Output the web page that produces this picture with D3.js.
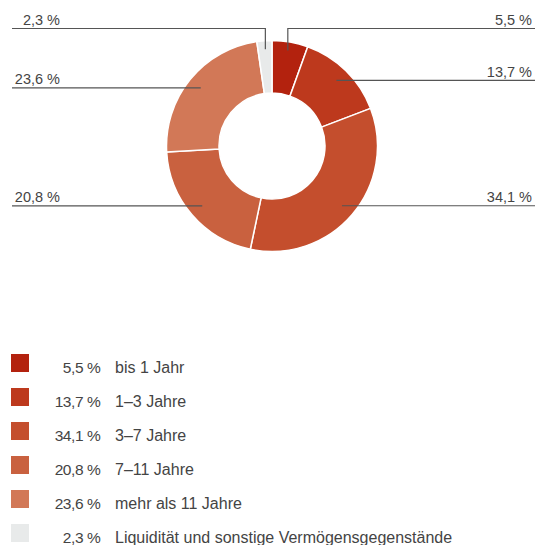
<!DOCTYPE html>
<html>
<head>
<meta charset="utf-8">
<script src="https://cdn.jsdelivr.net/npm/d3@7"></script>
<style>
body { margin: 0; background: #fff; }
text { font-family: "Liberation Sans", Arial, sans-serif; fill: #444; }
</style>
</head>
<body>
<div id="container"></div>
<script>
var WIDTH = 535,
	HEIGHT = 545,
	CX = 272,
	CY = 146,
	OUTER = 105.5,
	INNER = 53;

var categories = ['bis 1 Jahr', '1\u20133 Jahre', '3\u20137 Jahre', '7\u201311 Jahre', 'mehr als 11 Jahre', 'Liquidit\u00e4t und sonstige Verm\u00f6gensgegenst\u00e4nde'];
var values = [5.5, 13.7, 34.1, 20.8, 23.6, 2.3];
var valueLabels = ['5,5 %', '13,7 %', '34,1 %', '20,8 %', '23,6 %', '2,3 %'];
var colors = ['#b3220e', '#bd391d', '#c44e2d', '#c9613f', '#d27857', '#e8eaea'];

var data = values.map(function(v, i) {
	return {value: v, label: valueLabels[i], name: categories[i], color: colors[i]};
});

var translate = function(x, y) {
	return "translate(" + x + "," + y + ")";
};

var svg = d3.select('#container')
	.append('svg')
	.attr('width', WIDTH)
	.attr('height', HEIGHT);

var pie = d3.pie().sort(null).value(function(d) { return d.value; });
var arcs = pie(data);

var arc = d3.arc().innerRadius(INNER).outerRadius(OUTER);

var chart = svg.append('g').attr('transform', translate(CX, CY));

chart.selectAll('path.slice').data(arcs).enter()
	.append('path')
	.classed('slice', true)
	.attr('d', arc)
	.attr('fill', function(d) { return d.data.color; })
	.attr('stroke', '#fff')
	.attr('stroke-width', 1.5);

// leader lines + labels
var LINE_R = 92, TOP_Y = 28.5 - CY;
arcs.forEach(function(d) {
	var a = (d.startAngle + d.endAngle) / 2;
	var px = LINE_R * Math.sin(a), py = -LINE_R * Math.cos(a);
	var right = px > 0;
	var endX = right ? WIDTH - CX : 12 - CX;
	var pts;
	if (Math.cos(a) > 0.95) {
		py = -(LINE_R + 5) * Math.cos(a);
		pts = [[px, py], [px, TOP_Y], [endX, TOP_Y]];
		py = TOP_Y;
	} else {
		pts = [[px, py], [endX, py]];
	}
	chart.append('path')
		.attr('d', d3.line()(pts))
		.attr('fill', 'none')
		.attr('stroke', '#555')
		.attr('stroke-width', 1.2);
	chart.append('text')
		.attr('x', right ? WIDTH - 3 - CX : 60 - CX)
		.attr('y', py - 3.5)
		.attr('text-anchor', 'end')
		.style('font-size', '14.5px')
		.text(d.data.label);
});

// legend
var legend = svg.append('g').attr('transform', translate(11, 354));
var rows = legend.selectAll('g').data(data).enter()
	.append('g')
	.attr('transform', function(d, i) { return translate(0, i * 34); });
rows.append('rect')
	.attr('width', 18)
	.attr('height', 18)
	.attr('fill', function(d) { return d.color; });
rows.append('text')
	.attr('x', 89.5)
	.attr('y', 18.5)
	.attr('text-anchor', 'end')
	.style('font-size', '15.5px')
	.style('letter-spacing', '-0.4px')
	.text(function(d) { return d.label; });
rows.append('text')
	.attr('x', 104)
	.attr('y', 18.5)
	.style('font-size', '16px')
	.text(function(d) { return d.name; });
</script>
</body>
</html>
